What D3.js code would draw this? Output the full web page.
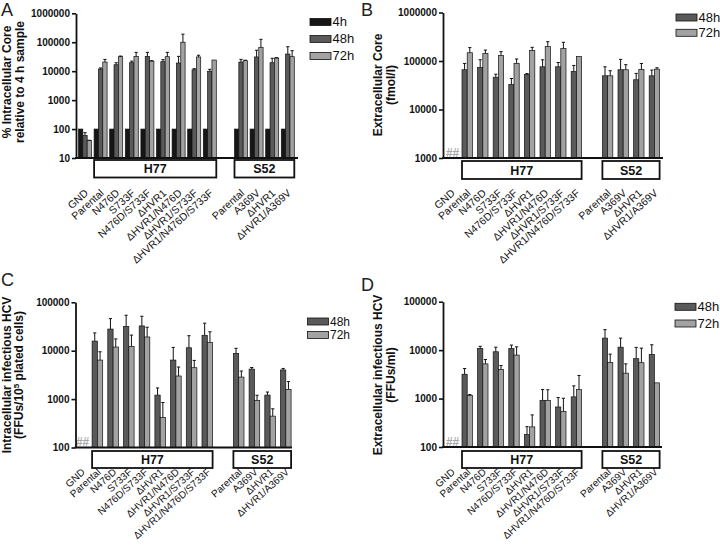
<!DOCTYPE html>
<html><head><meta charset="utf-8">
<script src="https://cdn.jsdelivr.net/npm/d3@7"></script>
<style>
body{margin:0;background:#fff}
text{font-family:"Liberation Sans",Arial,sans-serif}
</style>
</head><body>
<svg id="chart" width="720" height="547"></svg>
<script>
// ---------- data ----------
const categories = ["GND","Parental","N476D","S733F","N476D/S733F","ΔHVR1","ΔHVR1/N476D","ΔHVR1/S733F","ΔHVR1/N476D/S733F","Parental","A369V","ΔHVR1","ΔHVR1/A369V"];
const slotOf = [0,1,2,3,4,5,6,7,8,10,11,12,13];
const strainGroups = [{name:"H77", first:1, last:8},{name:"S52", first:9, last:12}];

// A: % intracellular Core relative to 4 h sample
const coreIntra4h   = [100,100,100,100,100,100,100,100,100,100,100,100,100];
const coreIntra48h  = [60,11900,16700,19600,32500,21300,19100,11200,9900,20700,31000,19600,39000];
const coreIntra48hErr = [15,1000,2900,2700,12200,3700,13400,1000,1700,4900,22000,8300,31000];
const coreIntra72h  = [40,20700,31700,32500,22300,31700,100000,31000,24300,23000,67000,28500,31700];
const coreIntra72hErr = [1,4800,1600,12200,700,13000,90000,4500,0,1000,59000,700,19300];
const ticksA = [10,100,1000,10000,100000,1000000];

// B: extracellular Core (fmol/l)
const coreExtra48h = [null,66000,73600,46300,32700,52700,76000,76000,60800,49500,66000,41000,49500];
const coreExtra48hErr = [null,23000,32400,7200,10900,2300,30000,17000,20200,26500,42000,14500,15500];
const coreExtra72h = [null,148000,142000,129000,89000,164000,198000,180000,124000,49500,66000,67000,68000];
const coreExtra72hErr = [null,41000,26000,27000,21000,27000,52000,63000,0,13500,18000,22000,4500];
const ticksB = [1000,10000,100000,1000000];

// C: intracellular infectious HCV (FFUs/10^5 plated cells)
const hcvIntra48h = [null,15800,28000,31800,32500,1210,6400,11500,20800,8800,4170,1210,4000];
const hcvIntra48hErr = [null,7500,18000,22200,19000,490,5300,8900,16200,2400,330,190,300];
const hcvIntra72h = [null,6400,11900,12300,19200,420,3000,4450,14900,2850,940,445,1590];
const hcvIntra72hErr = [null,3100,5600,8700,11300,430,1600,1850,9700,950,260,185,710];
const ticksC = [100,1000,10000,100000];

// D: extracellular infectious HCV (FFUs/ml)
const hcvExtra48h = [null,3180,10800,9250,10800,180,920,670,1085,17700,11500,6660,8150];
const hcvExtra48hErr = [null,990,1200,2250,1900,83,615,380,745,8800,6200,4740,4750];
const hcvExtra72h = [null,1150,5200,4000,7900,260,920,540,1535,5560,3340,5500,2110];
const hcvExtra72hErr = [null,60,1200,800,3800,200,600,475,1465,2700,1860,5500,0];
const ticksD = [100,1000,10000,100000];

const colors = {"4h":"#161616","48h":"#5a5a5a","72h":"#a2a2a2"};

// ---------- drawing ----------
const svg = d3.select("#chart");

function panel(o){
  const g = svg.append("g");
  const y = d3.scaleLog().domain(o.domain).range([o.yBottom, o.yTop]);
  const x = d3.scaleBand().domain(d3.range(14))
      .range([o.slot0, o.slot0 + o.step*(14 - o.pI)]).paddingInner(o.pI).paddingOuter(0);
  const bw = x.bandwidth()/o.series.length;

  // bars
  o.series.forEach((s,k)=>{
    const rows = s.values.map((v,i)=>({v, e:s.err ? s.err[i] : null, slot:slotOf[i]})).filter(d=>d.v!=null);
    g.append("g").selectAll("rect").data(rows).join("rect")
      .attr("x", d=>x(d.slot)+k*bw).attr("width", bw)
      .attr("y", d=>y(d.v)).attr("height", d=>o.yBottom - y(d.v))
      .attr("fill", colors[s.name]).attr("stroke","#111").attr("stroke-width",0.7);
    const er = rows.filter(d=>d.e);
    const eg = g.append("g").attr("stroke","#111").attr("stroke-width",1);
    eg.selectAll("line.v").data(er).join("line").attr("class","v")
      .attr("x1", d=>x(d.slot)+k*bw+bw/2).attr("x2", d=>x(d.slot)+k*bw+bw/2)
      .attr("y1", d=>y(d.v)).attr("y2", d=>y(d.v+d.e));
    eg.selectAll("line.c").data(er).join("line").attr("class","c")
      .attr("x1", d=>x(d.slot)+k*bw+bw/2-1.6).attr("x2", d=>x(d.slot)+k*bw+bw/2+1.6)
      .attr("y1", d=>y(d.v+d.e)).attr("y2", d=>y(d.v+d.e));
  });

  // "##" for not-detected
  if(o.nd){
    g.append("text").attr("x", x(0)-0.5).attr("y", o.yBottom-1.5)
      .attr("font-size",12).attr("font-weight","bold").attr("fill","#a8a8a8").text("##");
  }

  // y axis
  const ax = d3.axisLeft(y).tickValues(o.ticks).tickFormat(d3.format("d")).tickSize(4).tickSizeOuter(0).tickPadding(2);
  const ag = g.append("g").attr("transform",`translate(${o.axisX},0)`).call(ax);
  ag.select(".domain").attr("stroke","#111").attr("stroke-width",1.8);
  ag.selectAll(".tick line").attr("stroke","#111").attr("stroke-width",1.6);
  ag.selectAll(".tick text").attr("font-size",10).attr("font-weight","bold").attr("fill","#111")
    .attr("font-family","'Liberation Sans',Arial,sans-serif");
  // x baseline
  g.append("line").attr("x1",o.axisX-0.9).attr("x2",o.xEnd).attr("y1",o.yBottom).attr("y2",o.yBottom)
    .attr("stroke","#111").attr("stroke-width",1.8);

  // strain boxes
  strainGroups.forEach(sg=>{
    const x0 = x(slotOf[sg.first]), x1 = x(slotOf[sg.last]) + x.bandwidth();
    g.append("rect").attr("x",x0).attr("y",o.boxY).attr("width",x1-x0).attr("height",o.boxH)
      .attr("fill","#fff").attr("stroke","#111").attr("stroke-width",1.8);
    g.append("text").attr("x",(x0+x1)/2).attr("y",o.boxY+o.boxH/2+4.5).attr("text-anchor","middle")
      .attr("font-size",12.5).attr("font-weight","bold").attr("fill","#111").text(sg.name);
  });

  // category labels
  categories.forEach((c,i)=>{
    const cx = x(slotOf[i]) + x.bandwidth()/2;
    g.append("text").attr("transform",`translate(${cx+4},${o.boxY+o.boxH+o.labelGap}) rotate(-42)`)
      .attr("text-anchor","end").attr("font-size",o.labelSize).attr("fill","#111").text(c);
  });

  // legend
  o.series.forEach((s,k)=>{
    const ly = o.legendY[k];
    g.append("rect").attr("x",o.legendX).attr("y",ly).attr("width",21).attr("height",7)
      .attr("fill",colors[s.name]).attr("stroke","#111").attr("stroke-width",0.8);
    g.append("text").attr("x",o.legendX+22.5).attr("y",ly+7.5).attr("font-size",o.legendSize).attr("fill","#111").text(s.name);
  });

  // axis title
  const t = g.append("g").attr("transform",`translate(0,${o.titleY})`);
  o.title.forEach((ln,j)=>{
    const tx = t.append("text").attr("transform",`translate(${o.titleX[j]},0) rotate(-90)`)
      .attr("text-anchor","middle").attr("font-size",12).attr("font-weight","bold").attr("fill","#111");
    if(Array.isArray(ln)){
      ln.forEach(p=>{ const ts = tx.append("tspan").text(p.t); if(p.sup) ts.attr("baseline-shift","super").attr("font-size",8); });
    } else tx.text(ln);
  });

  // panel letter
  svg.append("text").attr("x",o.letter[1]).attr("y",o.letter[2]).attr("font-size",18).attr("fill","#222").text(o.letter[0]);
}

panel({
  domain:[10,1e6], ticks:ticksA, axisX:76, yTop:13.3, yBottom:158,
  slot0:78.5, step:15.6, pI:0.1667, xEnd:298, boxY:160, boxH:17.5, labelGap:16.5, labelSize:10.5,
  series:[{name:"4h",values:coreIntra4h},{name:"48h",values:coreIntra48h,err:coreIntra48hErr},{name:"72h",values:coreIntra72h,err:coreIntra72hErr}],
  legendX:310, legendY:[18.5,35.5,52.5], legendSize:13,
  title:["% Intracellular Core","relative to 4 h sample"], titleX:[11,24], titleY:82,
  letter:["A",1,16]
});
panel({
  domain:[1e3,1e6], ticks:ticksB, axisX:443, yTop:12.5, yBottom:158,
  slot0:446.4, step:15.6, pI:0.333, xEnd:663, boxY:161, boxH:18, nd:true, labelGap:15, labelSize:10.5,
  series:[{name:"48h",values:coreExtra48h,err:coreExtra48hErr},{name:"72h",values:coreExtra72h,err:coreExtra72hErr}],
  legendX:676, legendY:[14,29.3], legendSize:13,
  title:["Extracellular Core","(fmol/l)"], titleX:[382,395], titleY:85,
  letter:["B",361,16]
});
panel({
  domain:[100,1e5], ticks:ticksC, axisX:75.5, yTop:302.3, yBottom:447.5,
  slot0:76.4, step:15.7, pI:0.325, xEnd:292, boxY:451, boxH:17, nd:true, labelGap:5, labelSize:10,
  series:[{name:"48h",values:hcvIntra48h,err:hcvIntra48hErr},{name:"72h",values:hcvIntra72h,err:hcvIntra72hErr}],
  legendX:307.5, legendY:[318,331.5], legendSize:12,
  title:["Intracellular infectious HCV",[{t:"(FFUs/10"},{t:"5",sup:true},{t:" plated cells)"}]], titleX:[10.5,23], titleY:375,
  letter:["C",1,286]
});
panel({
  domain:[100,1e5], ticks:ticksD, axisX:443, yTop:301.7, yBottom:447, labelGap:5, labelSize:10,
  slot0:446.4, step:15.6, pI:0.333, xEnd:662, boxY:451, boxH:17, nd:true,
  series:[{name:"48h",values:hcvExtra48h,err:hcvExtra48hErr},{name:"72h",values:hcvExtra72h,err:hcvExtra72hErr}],
  legendX:675, legendY:[303.3,320], legendSize:13,
  title:["Extracellular infectious HCV","(FFUs/ml)"], titleX:[382,395], titleY:375,
  letter:["D",361,291]
});
</script>
</body></html>
